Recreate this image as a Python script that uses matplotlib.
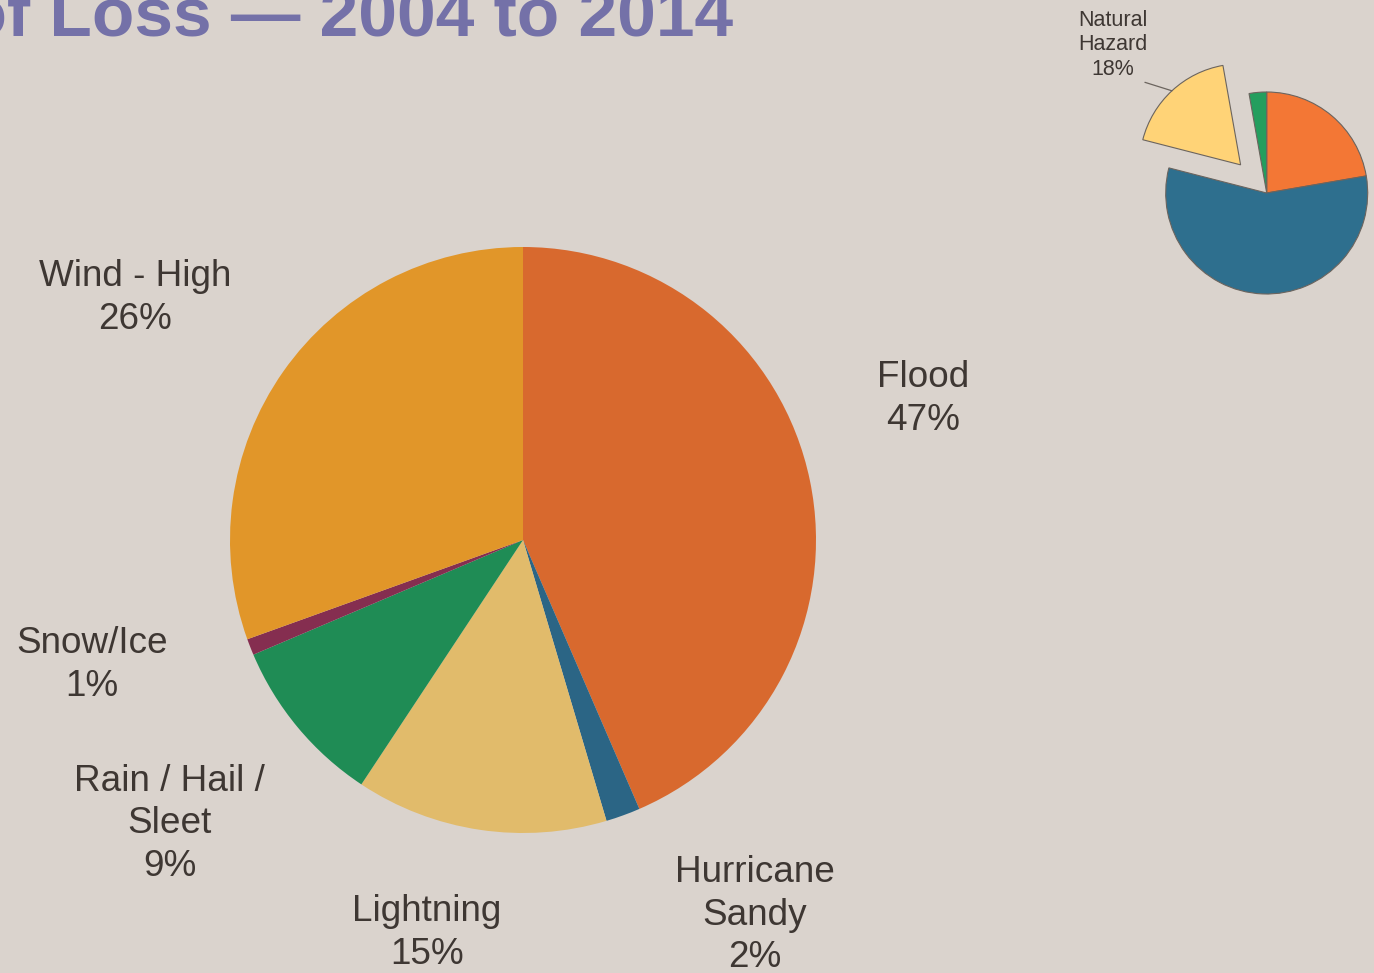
import numpy as np
import matplotlib.pyplot as plt

plt.rcParams['font.family'] = ['Liberation Sans', 'DejaVu Sans']

# main pie: causes of loss (slice sizes as drawn, labels as printed)
causes = ['Flood', 'Hurricane\nSandy', 'Lightning', 'Rain / Hail /\nSleet', 'Snow/Ice', 'Wind - High']
cause_sizes = [43.5, 1.9, 13.9, 9.3, 0.9, 30.5]
cause_pct = ['47%', '2%', '15%', '9%', '1%', '26%']
cause_colors = ['#d8692e', '#2b6585', '#e1bb6b', '#1f8c55', '#852e50', '#e19629']

# small pie: share of all losses, natural hazard pulled out
share_sizes = [22.3, 56.7, 18.2, 2.8]
share_colors = ['#f37735', '#2e6f8e', '#ffd377', '#239e5e']
share_label = 'Natural\nHazard\n18%'

bg = '#dad3cd'
txt = '#3e3733'
W, H = 1374, 973

fig = plt.figure(figsize=(13.74, 9.73), dpi=100, facecolor=bg)

fig.text(733 / W, 1 - 36 / H, 'Causes of Loss \u2014 2004 to 2014', ha='right', va='baseline',
         fontsize=50, fontweight='bold', color='#7471a8')

# main pie
cx, cy, r = 523, 540, 293
ax = fig.add_axes([(cx - r) / W, (H - cy - r) / H, 2 * r / W, 2 * r / H])
ax.set_facecolor(bg)
ax.pie(cause_sizes, colors=cause_colors, startangle=90, counterclock=False,
       radius=1, wedgeprops=dict(linewidth=0))
ax.set_xlim(-1, 1)
ax.set_ylim(-1, 1)
ax.axis('off')

label_pos = [(1.365, 0.481), (0.792, -1.280), (-0.328, -1.341),
             (-1.205, -0.969), (-1.471, -0.427), (-1.324, 0.826)]
for name, pct, (lx, ly) in zip(causes, cause_pct, label_pos):
    ax.text(lx, ly, name + '\n' + pct, ha='center', va='center', fontsize=26.6,
            color=txt, linespacing=1.29, clip_on=False)

# small pie
sx, sy, sr = 1266.7, 193, 101
ax2 = fig.add_axes([(sx - sr) / W, (H - sy - sr) / H, 2 * sr / W, 2 * sr / H])
wedges, _ = ax2.pie(share_sizes, colors=share_colors, startangle=90, counterclock=False,
                    radius=1, explode=[0, 0, 0.38, 0],
                    wedgeprops=dict(linewidth=0.8, edgecolor='#6b645e'))
ax2.set_xlim(-1, 1)
ax2.set_ylim(-1, 1)
ax2.axis('off')

w = wedges[2]
mid = np.deg2rad((w.theta1 + w.theta2) / 2)
px = w.center[0] + w.r * np.cos(mid)
py = w.center[1] + w.r * np.sin(mid)
ax2.annotate(share_label, xy=(px, py), xytext=(-1.52, 1.47), ha='center', va='center',
             fontsize=15.5, color=txt, linespacing=1.22, annotation_clip=False,
             arrowprops=dict(arrowstyle='-', color='#6b645e', lw=0.9,
                             relpos=(0.83, 0.0), shrinkA=0, shrinkB=0))

fig.savefig('out.png', dpi=100, facecolor=bg)
